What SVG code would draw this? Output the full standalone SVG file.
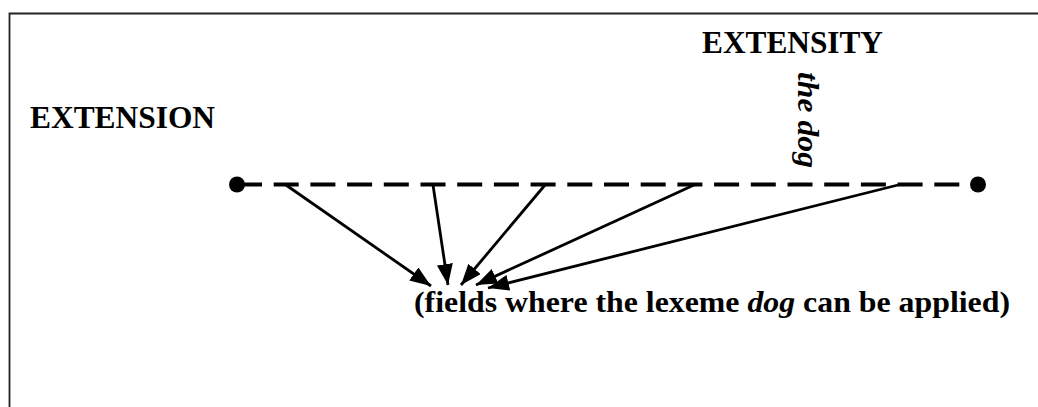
<svg xmlns="http://www.w3.org/2000/svg" width="1038" height="407" viewBox="0 0 1038 407">
<style>
.t{font-family:"Liberation Serif","Times New Roman",serif;font-weight:bold;fill:#000}
.a{stroke:#000;stroke-width:2.8;fill:none;marker-end:url(#ah)}
</style>
<defs>
<marker id="ah" markerUnits="userSpaceOnUse" markerWidth="24" markerHeight="18" refX="21" refY="8" orient="auto">
<path d="M0,0 L21,8 L0,16 z" fill="#000"/>
</marker>
</defs>
<rect width="1038" height="407" fill="#fff"/>
<path d="M9.5,407 V13.5 H1038" fill="none" stroke="#222" stroke-width="1.8"/>
<g id="scale">
<line x1="237" y1="184.5" x2="978" y2="184.5" stroke="#000" stroke-width="3.8" stroke-dasharray="25 11.7"/>
<circle cx="237" cy="184.5" r="8" fill="#000"/>
<circle cx="978" cy="184.5" r="8" fill="#000"/>
</g>
<g id="connectors">
<line class="a" x1="286" y1="185" x2="431" y2="286"/>
<line class="a" x1="433" y1="185" x2="448" y2="285"/>
<line class="a" x1="545" y1="185" x2="461" y2="285"/>
<line class="a" x1="694" y1="185" x2="476" y2="285"/>
<line class="a" x1="898" y1="185" x2="488" y2="288"/>
</g>
<g id="extension"><text class="t" x="30" y="128" font-size="32" textLength="185" lengthAdjust="spacingAndGlyphs">EXTENSION</text></g>
<g id="extensity"><text class="t" x="702" y="53" font-size="31" textLength="181" lengthAdjust="spacingAndGlyphs">EXTENSITY</text></g>
<g id="thedog"><text class="t" font-style="italic" font-size="30" transform="translate(798,72) rotate(90)" textLength="96" lengthAdjust="spacingAndGlyphs">the dog</text></g>
<g id="fields"><text class="t" x="414" y="312" font-size="30" textLength="596" lengthAdjust="spacingAndGlyphs">(fields where the lexeme <tspan font-style="italic">dog</tspan> can be applied)</text></g>
</svg>
